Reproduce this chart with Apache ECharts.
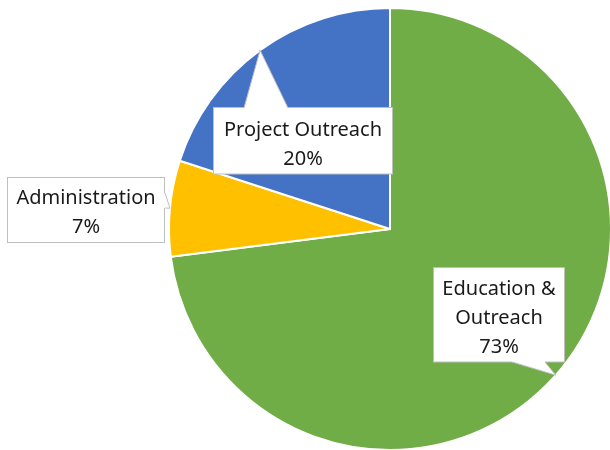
<!DOCTYPE html>
<html>
<head>
<meta charset="utf-8">
<script src="https://cdn.jsdelivr.net/npm/echarts@6/dist/echarts.min.js"></script>
<style>
    html, body { margin: 0; padding: 0; background: #fff; }
    #main { width: 610px; height: 450px; }
</style>
</head>
<body>
<div id="main"></div>
<script>
// 数据
var categories = ['Education & Outreach', 'Administration', 'Project Outreach'];
var values = [73, 7, 20];
var colors = ['#70AD47', '#FFC000', '#4472C4'];

// 标签框 (callout boxes): left, top, width, height, line count
var labelBoxes = [
    [433, 268, 132, 94, 3],
    [7, 178, 158, 64, 2],
    [213, 108, 180, 67, 2]
];
// 指针底边 (pointer base): side, from, to (offset along that side)
var pointerBases = [
    ['bottom', 79, 112],
    ['right', 15, 30],
    ['top', 31, 75]
];
var LINE_H = 29;
var TEXT_SHIFT = 4;

$init();

function $init() {
    var myChart = echarts.init(document.getElementById('main'));

    var seriesData = [];
    for (var i = 0; i < categories.length; i++) {
        var b = labelBoxes[i];
        var padV = (b[3] - 2 - b[4] * LINE_H) / 2;
        seriesData.push({
            name: categories[i],
            value: values[i],
            label: {
                width: b[2] - 2,
                padding: [padV + TEXT_SHIFT, 0, Math.max(padV - TEXT_SHIFT, 0), 0]
            }
        });
    }

    var option = {
        animation: false,
        color: colors,
        series: [{
            type: 'pie',
            center: [390, 229],
            radius: 221,
            startAngle: 90,
            clockwise: true,
            data: seriesData,
            itemStyle: {
                borderColor: '#ffffff',
                borderWidth: 2
            },
            label: {
                show: true,
                formatter: function (p) {
                    var name = p.name.replace('Education & ', 'Education &\n');
                    return name + '\n' + p.value + '%';
                },
                fontFamily: 'Noto Sans',
                fontSize: 20,
                lineHeight: LINE_H,
                color: '#1a1a1a',
                align: 'center',
                overflow: 'none',
                backgroundColor: '#ffffff',
                borderColor: '#bfbfbf',
                borderWidth: 1
            },
            labelLine: {
                show: false
            },
            labelLayout: function (params) {
                var b = labelBoxes[params.dataIndex];
                return {
                    x: b[0] + b[2] / 2,
                    y: b[1],
                    align: 'center',
                    verticalAlign: 'top'
                };
            }
        }]
    };
    myChart.setOption(option);

    // 标注指针 -- 指向扇区外缘中点
    var data = myChart.getModel().getSeriesByIndex(0).getData();
    var graphics = [];
    for (var k = 0; k < categories.length; k++) {
        var lay = data.getItemLayout(k);
        var mid = (lay.startAngle + lay.endAngle) / 2;
        var tip = [lay.cx + lay.r * Math.cos(mid), lay.cy + lay.r * Math.sin(mid)];
        var bx = labelBoxes[k];
        var pb = pointerBases[k];
        var p1, p2, q1, q2;
        if (pb[0] === 'top') {
            p1 = [bx[0] + pb[1], bx[1]]; p2 = [bx[0] + pb[2], bx[1]];
            q1 = [p1[0], p1[1] + 1]; q2 = [p2[0], p2[1] + 1];
        } else if (pb[0] === 'bottom') {
            p1 = [bx[0] + pb[1], bx[1] + bx[3]]; p2 = [bx[0] + pb[2], bx[1] + bx[3]];
            q1 = [p1[0], p1[1] - 1]; q2 = [p2[0], p2[1] - 1];
        } else {
            p1 = [bx[0] + bx[2], bx[1] + pb[1]]; p2 = [bx[0] + bx[2], bx[1] + pb[2]];
            q1 = [p1[0] - 1, p1[1]]; q2 = [p2[0] - 1, p2[1]];
        }
        graphics.push({
            type: 'polygon',
            z: 100,
            shape: { points: [q1, p1, tip, p2, q2] },
            style: { fill: '#ffffff', stroke: null }
        });
        graphics.push({
            type: 'polyline',
            z: 101,
            shape: { points: [p1, tip, p2] },
            style: { fill: null, stroke: '#bfbfbf', lineWidth: 1 }
        });
    }
    myChart.setOption({ graphic: graphics });
}
</script>
</body>
</html>
